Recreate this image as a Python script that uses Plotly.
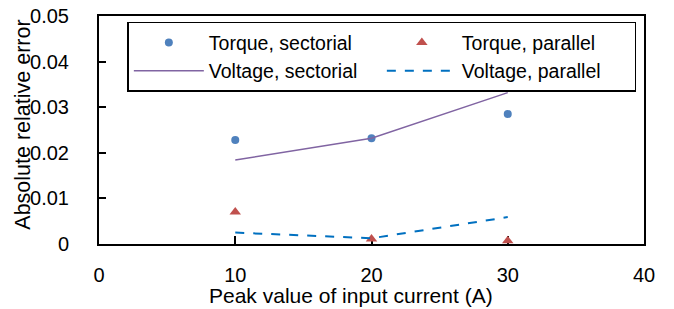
import plotly.graph_objects as go

currents = [10, 20, 30]
torque_sectorial = [0.0228, 0.0232, 0.0285]
torque_parallel = [0.0070, 0.0011, 0.0007]
voltage_sectorial = [0.0184, 0.0232, 0.0332]
voltage_parallel = [0.0025, 0.00125, 0.0059]

x_ticks = [0, 10, 20, 30, 40]
y_ticks = [0, 0.01, 0.02, 0.03, 0.04, 0.05]
y_tick_text = ["0", "0.01", "0.02", "0.03", "0.04", "0.05"]

x_title = "Peak value of input current (A)"
y_title = "Absolute relative error"

FONT = "Liberation Sans, Arial, sans-serif"

fig = go.Figure()
fig.add_trace(go.Scatter(x=currents, y=torque_sectorial, mode="markers",
                         name="Torque, sectorial",
                         marker=dict(symbol="circle", size=8, color="#4F81BD")))
fig.add_trace(go.Scatter(x=currents, y=torque_parallel, mode="markers",
                         name="Torque, parallel",
                         marker=dict(symbol="triangle-up", size=10, color="#C0504D")))
fig.add_trace(go.Scatter(x=currents, y=voltage_sectorial, mode="lines",
                         name="Voltage, sectorial",
                         line=dict(color="#8064A2", width=1.5)))
fig.add_trace(go.Scatter(x=currents, y=voltage_parallel, mode="lines",
                         name="Voltage, parallel",
                         line=dict(color="#0070C0", width=2, dash="dash")))

fig.update_layout(
    width=674, height=309,
    margin=dict(l=99, r=30, t=16, b=65, autoexpand=False),
    paper_bgcolor="white", plot_bgcolor="white",
    font=dict(family=FONT, size=20, color="black"),
    showlegend=True,
    legend=dict(
        orientation="h", x=0.052, y=0.975, xanchor="left", yanchor="top",
        bgcolor="rgba(255,255,255,0)", bordercolor="black", borderwidth=1.5,
        entrywidth=168, entrywidthmode="pixels", itemwidth=70,
        font=dict(family=FONT, size=19.5, color="black"),
        tracegroupgap=0,
    ),
    xaxis=dict(
        range=[0, 40], tickvals=x_ticks, ticks="inside", ticklen=8, tickwidth=1.5,
        tickcolor="black", showline=True, linecolor="black", linewidth=2,
        mirror=True, showgrid=False, zeroline=False, layer="below traces",
        ticklabelstandoff=12, automargin=False,
        tickfont=dict(family=FONT, size=20, color="black"),
    ),
    yaxis=dict(
        range=[0, 0.05], tickvals=y_ticks, ticktext=y_tick_text,
        ticks="inside", ticklen=7, tickwidth=1.5, tickcolor="black",
        showline=True, linecolor="black", linewidth=2, mirror=True,
        showgrid=False, zeroline=False, ticklabelstandoff=24,
        layer="below traces", automargin=False,
        tickfont=dict(family=FONT, size=20, color="black"),
    ),
    annotations=[
        dict(text=x_title, xref="paper", yref="paper", x=0.463, y=-0.225,
             xanchor="center", yanchor="middle", showarrow=False,
             font=dict(family=FONT, size=21, color="black")),
        dict(text=y_title, xref="paper", yref="paper", x=-0.14, y=0.522,
             xanchor="center", yanchor="middle", showarrow=False, textangle=-90,
             font=dict(family=FONT, size=21.5, color="black")),
    ],
)

fig.write_html("out.html", config={"displayModeBar": False},
               post_script="document.body.style.margin='0';document.body.style.padding='0';")
